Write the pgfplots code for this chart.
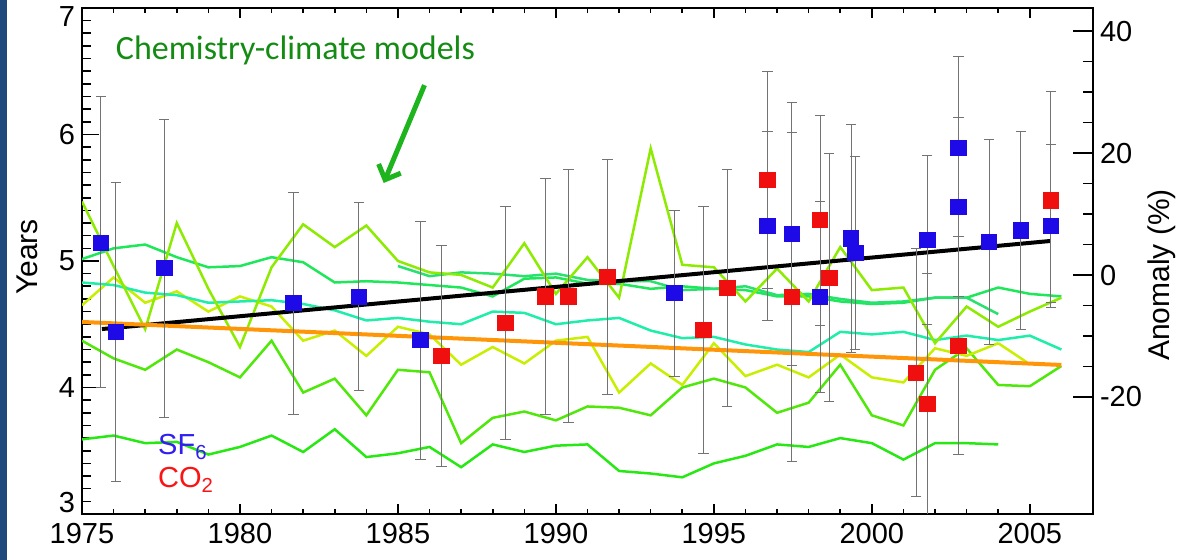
\documentclass[border=0pt]{standalone}
\usepackage{fontspec}
\setmainfont{Liberation Sans}
\newfontfamily\carlito{Carlito}
\usepackage{pgfplots}
\pgfplotsset{compat=1.18}
\usetikzlibrary{arrows.meta}
\definecolor{slideblue}{RGB}{31,73,125}
\definecolor{cLime}{RGB}{140,235,0}
\definecolor{cYellow}{RGB}{200,238,0}
\definecolor{cGone}{RGB}{80,232,10}
\definecolor{cGtwo}{RGB}{40,232,20}
\definecolor{cLone}{RGB}{30,232,90}
\definecolor{cLtwo}{RGB}{40,225,110}
\definecolor{cCyan}{RGB}{30,238,170}
\definecolor{sfblue}{RGB}{30,10,230}
\definecolor{cored}{RGB}{240,15,15}
\definecolor{txtblue}{RGB}{50,30,240}
\definecolor{txtred}{RGB}{250,20,20}
\definecolor{cmgreen}{RGB}{20,140,20}
\definecolor{arrgreen}{RGB}{30,180,30}
\definecolor{trendorange}{RGB}{255,150,10}
\definecolor{errgray}{RGB}{115,115,115}

\pgfplotstableread{
x y ep em
1975.60 5.142 1.16 1.14
1976.07 4.440 1.18 1.18
1977.60 4.945 1.175 1.185
1981.70 4.668 0.877 0.878
1983.76 4.715 0.75 0.735
1985.72 4.375 0.935 0.945
1993.75 4.747 0.65 0.66
1996.70 5.277 0.75 0.75
1997.47 5.213 1.04 1.04
1998.36 4.715 0.755 0.758
1999.34 5.180 0.90 0.90
1999.47 5.063 0.76 0.76
2001.75 5.166 0.67 0.67
2002.74 5.893 0.72 0.70
2002.74 5.427 0.71 0.71
2003.71 5.150 0.807 0.807
2004.72 5.240 0.78 0.78
2005.67 5.277 0.645 0.645
}\sfsix

\pgfplotstableread{
x y ep em
1986.38 4.249 0.87 0.87
1988.40 4.510 0.92 0.92
1989.67 4.720 0.93 0.93
1990.40 4.720 1.00 1.00
1991.63 4.874 0.93 0.93
1994.67 4.455 0.975 0.975
1995.42 4.787 0.935 0.935
1996.70 5.640 0.86 0.86
1997.47 4.715 1.30 1.30
1998.36 5.324 0.83 0.83
1998.65 4.866 0.98 0.98
2001.40 4.115 0.98 0.98
2001.75 3.870 1.035 1.035
2002.74 4.330 0.86 0.86
2005.67 5.480 0.86 0.81
}\cotwo

\pgfplotstableread{
x lime yellow cyan gone gtwo lone
1975 5.47 4.65 4.83 4.37 3.59 5.015
1976 4.96 4.87 4.81 4.23 3.62 5.10
1977 4.46 4.67 4.75 4.14 3.56 5.13
1978 5.30 4.76 4.73 4.30 3.57 5.03
1979 4.78 4.60 4.67 4.20 3.47 4.95
1980 4.32 4.72 4.68 4.08 3.53 4.96
1981 4.95 4.64 4.69 4.37 3.62 5.03
1982 5.29 4.37 4.66 3.96 3.49 4.99
1983 5.11 4.45 4.61 4.07 3.67 4.83
1984 5.28 4.25 4.53 3.78 3.45 4.84
1985 5.00 4.48 4.55 4.14 3.48 4.83
1986 4.91 4.42 4.52 4.12 3.53 4.81
1987 4.89 4.18 4.50 3.56 3.37 4.79
1988 4.79 4.32 4.60 3.76 3.55 4.72
1989 5.14 4.19 4.59 3.81 3.49 4.86
1990 4.74 4.37 4.50 3.74 3.54 4.87
1991 5.03 4.40 4.53 3.85 3.55 4.82
1992 4.71 3.96 4.55 3.84 3.34 4.82
1993 5.89 4.19 4.45 3.78 3.32 4.78
1994 4.97 4.02 4.39 4.00 3.29 4.80
1995 4.95 4.35 4.40 4.07 3.40 4.78
1996 4.68 4.09 4.34 4.00 3.46 4.77
1997 4.94 4.18 4.30 3.80 3.55 4.72
1998 4.68 4.08 4.28 3.88 3.53 4.72
1999 5.11 4.26 4.44 4.18 3.60 4.68
2000 4.77 4.08 4.42 3.78 3.56 4.66
2001 4.79 4.04 4.44 3.70 3.43 4.67
2002 4.35 4.31 4.375 4.14 3.56 4.71
2003 4.64 4.25 4.41 4.31 3.56 4.71
2004 4.48 4.35 4.375 4.02 3.55 4.79
2005 4.60 nan 4.41 4.01 nan 4.74
2006 4.71 nan 4.30 4.17 nan 4.72
}\models

\pgfplotstableread{
x ltwo
1985 4.96
1986 4.88
1987 4.91
1988 4.90
1989 4.88
1990 4.90
1991 4.85
1992 4.84
1993 4.84
1994 4.77
1995 4.78
1996 4.80
1997 4.73
1998 4.74
1999 4.70
2000 4.67
2001 4.68
2002 4.71
2003 4.71
2004 4.58
}\modeltwo

\pgfplotstableread{
x yellow
2004 4.35
2004.9 4.20
}\yellowend

\begin{document}
\begin{tikzpicture}
\path[use as bounding box] (0,0) rectangle (591pt,280pt);
\fill[slideblue] (0,0) rectangle (3.5pt,280pt);
% x ticks axis
\begin{axis}[at={(41pt,23pt)}, anchor=south west, width=505.5pt, height=253pt,
  scale only axis, xmin=1975, xmax=2007, ymin=3, ymax=7,
  axis line style={line width=1pt},
  ytick=\empty, xtick={1975,1980,...,2005},
  xticklabels={1975,1980,1985,1990,1995,2000,2005},
  minor x tick num=4, major tick length=5pt, minor tick length=2.6pt,
  tick style={line width=0.8pt, black},
  xticklabel style={font=\fontsize{14.5}{16}\selectfont, yshift=-1pt},
  /pgf/number format/assume math mode=true]
\end{axis}
% right axis
\begin{axis}[at={(41pt,23pt)}, anchor=south west, width=505.5pt, height=253pt,
  scale only axis, xmin=1975, xmax=2007, ymin=-39.2, ymax=43.8,
  axis line style={line width=1pt},
  xtick=\empty, ytick={-20,0,20,40}, yticklabels={-20,0,20,40},
  minor y tick num=3, ytick pos=right, yticklabel pos=right,
  major tick length=10pt, minor tick length=5pt,
  tick style={line width=0.8pt, black},
  yticklabel style={font=\fontsize{14.5}{16}\selectfont},
  /pgf/number format/assume math mode=true]
\end{axis}
% main data axis
\begin{axis}[at={(41pt,23pt)}, anchor=south west, width=505.5pt, height=253pt,
  scale only axis, xmin=1975, xmax=2007, ymin=3, ymax=7,
  axis line style={line width=1pt},
  xtick=\empty, ytick={3,4,5,6,7},
  yticklabels={\raisebox{5.5pt}[\height][\depth]{3},4,5,6,\raisebox{-4.5pt}[\height][\depth]{7}},
  minor y tick num=9, ytick pos=left,
  major tick length=8.5pt, minor tick length=4.7pt,
  tick style={line width=0.8pt, black},
  yticklabel style={font=\fontsize{14.5}{16}\selectfont},
  /pgf/number format/assume math mode=true]
% model lines
\addplot[cGtwo, line width=1.25pt] table[x=x,y=gtwo] {\models};
\addplot[cGone, line width=1.25pt] table[x=x,y=gone] {\models};
\addplot[cYellow, line width=1.25pt] table[x=x,y=yellow] {\models};
\addplot[cYellow, line width=1.25pt] table[x=x,y=yellow] {\yellowend};
\addplot[cCyan, line width=1.25pt] table[x=x,y=cyan] {\models};
\addplot[cLone, line width=1.25pt] table[x=x,y=lone] {\models};
\addplot[cLtwo, line width=1.25pt] table[x=x,y=ltwo] {\modeltwo};
\addplot[cLime, line width=1.25pt] table[x=x,y=lime] {\models};
% trend lines
\addplot[black, line width=2pt] coordinates {(1975.63,4.462) (2005.64,5.158)};
\addplot[trendorange, line width=2pt] coordinates {(1975,4.518) (2006,4.178)};
% error bars
\addplot[only marks, mark=none, error bars/.cd, y dir=both, y explicit,
  error mark=-, error bar style={errgray, line width=0.5pt},
  error mark options={rotate=90, errgray, mark size=2.6pt, line width=0.5pt}]
  table[x=x, y=y, y error plus=ep, y error minus=em] {\sfsix};
\addplot[only marks, mark=none, error bars/.cd, y dir=both, y explicit,
  error mark=-, error bar style={errgray, line width=0.5pt},
  error mark options={rotate=90, errgray, mark size=2.6pt, line width=0.5pt}]
  table[x=x, y=y, y error plus=ep, y error minus=em] {\cotwo};
% squares
\addplot[only marks, mark=square*, mark size=3.9pt, draw=sfblue, fill=sfblue] table[x=x,y=y] {\sfsix};
\addplot[only marks, mark=square*, mark size=3.9pt, draw=cored, fill=cored] table[x=x,y=y] {\cotwo};
% annotations
\node[anchor=west, text=cmgreen, font=\carlito\fontsize{17}{20}\selectfont] at (axis cs:1975.85,6.668) {Chemistry-climate models};
\draw[arrgreen, line width=2.5pt, -{Straight Barb[length=6pt,width=12pt]}] (axis cs:1985.84,6.39) -- (axis cs:1984.55,5.617);
\node[anchor=west, text=txtblue, font=\fontsize{14.5}{16}\selectfont, inner sep=0pt] at (axis cs:1977.4,3.53) {SF\textsubscript{6}};
\node[anchor=west, text=txtred, font=\fontsize{14.5}{16}\selectfont, inner sep=0pt] at (axis cs:1977.4,3.27) {CO\textsubscript{2}};
\end{axis}
\node[rotate=90, font=\fontsize{15}{17}\selectfont] at (13.5pt,151.5pt) {Years};
\node[rotate=90, font=\fontsize{15}{17}\selectfont] at (581pt,142.5pt) {Anomaly (\%)};
\end{tikzpicture}
\end{document}
